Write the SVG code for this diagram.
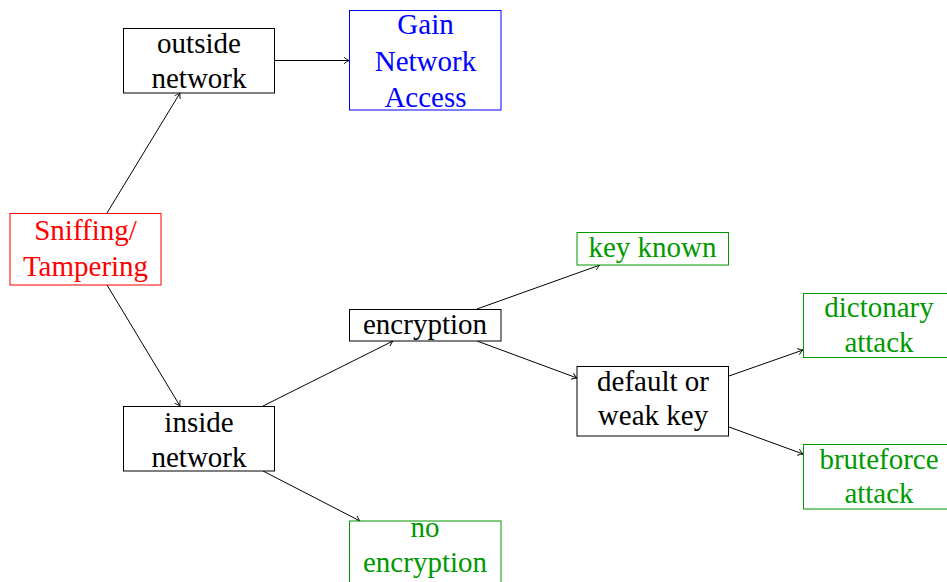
<svg xmlns="http://www.w3.org/2000/svg" width="947" height="582" viewBox="0 0 947 582">
  <defs>
    <marker id="arrow" viewBox="-6 -4 7 8" refX="0" refY="0" markerWidth="7" markerHeight="8" markerUnits="userSpaceOnUse" orient="auto">
      <path d="M -5,-3.2 Q -2,-0.8 0,0 Q -2,0.8 -5,3.2" fill="none" stroke="#000000" stroke-width="0.9"/>
    </marker>
  </defs>

  <g id="connectors" stroke="#000000" stroke-width="1" fill="none" marker-end="url(#arrow)">
    <line x1="107" y1="213" x2="180" y2="93"/>
    <line x1="107" y1="285" x2="180" y2="406"/>
    <line x1="275" y1="60.5" x2="349" y2="60.5"/>
    <line x1="263" y1="406" x2="393" y2="341"/>
    <line x1="263" y1="471" x2="360" y2="521"/>
    <line x1="477" y1="309" x2="600" y2="265"/>
    <line x1="477" y1="341" x2="577" y2="378"/>
    <line x1="729" y1="376" x2="803" y2="350"/>
    <line x1="729" y1="427" x2="803" y2="454"/>
  </g>

  <g id="sniffing" text-anchor="middle" fill="#ff0000">
    <rect x="10" y="213.5" width="151" height="71.5" fill="#ffffff" stroke="#ff0000"/>
    <text x="85.5" y="240" style="font-family:'Liberation Serif','Times New Roman',serif !important;font-size:29px">Sniffing/</text>
    <text x="85.5" y="276" style="font-family:'Liberation Serif','Times New Roman',serif !important;font-size:29px">Tampering</text>
  </g>

  <g id="outside" text-anchor="middle" fill="#000000">
    <rect x="123.5" y="28.5" width="151" height="64.5" fill="#ffffff" stroke="#000000"/>
    <text x="199" y="53" style="font-family:'Liberation Serif','Times New Roman',serif !important;font-size:29px">outside</text>
    <text x="199" y="88" style="font-family:'Liberation Serif','Times New Roman',serif !important;font-size:29px">network</text>
  </g>

  <g id="gain" text-anchor="middle" fill="#0000ff">
    <rect x="349.5" y="10.5" width="151.5" height="99.5" fill="#ffffff" stroke="#0000ff"/>
    <text x="425.5" y="33.5" style="font-family:'Liberation Serif','Times New Roman',serif !important;font-size:29px">Gain</text>
    <text x="425.5" y="71" style="font-family:'Liberation Serif','Times New Roman',serif !important;font-size:29px">Network</text>
    <text x="425.5" y="107" style="font-family:'Liberation Serif','Times New Roman',serif !important;font-size:29px">Access</text>
  </g>

  <g id="inside" text-anchor="middle" fill="#000000">
    <rect x="123.5" y="406.5" width="151" height="64.5" fill="#ffffff" stroke="#000000"/>
    <text x="199" y="432" style="font-family:'Liberation Serif','Times New Roman',serif !important;font-size:29px">inside</text>
    <text x="199" y="467" style="font-family:'Liberation Serif','Times New Roman',serif !important;font-size:29px">network</text>
  </g>

  <g id="encryption" text-anchor="middle" fill="#000000">
    <rect x="349.5" y="309.5" width="151.5" height="31.5" fill="#ffffff" stroke="#000000"/>
    <text x="425" y="334" style="font-family:'Liberation Serif','Times New Roman',serif !important;font-size:29px">encryption</text>
  </g>

  <g id="noencryption" text-anchor="middle" fill="#009900">
    <rect x="349.5" y="521" width="151.5" height="70" fill="#ffffff" stroke="#009900"/>
    <text x="425" y="537" style="font-family:'Liberation Serif','Times New Roman',serif !important;font-size:29px">no</text>
    <text x="425" y="572" style="font-family:'Liberation Serif','Times New Roman',serif !important;font-size:29px">encryption</text>
  </g>

  <g id="keyknown" text-anchor="middle" fill="#009900">
    <rect x="577" y="232.5" width="151.5" height="32.5" fill="#ffffff" stroke="#009900"/>
    <text x="652.5" y="257" style="font-family:'Liberation Serif','Times New Roman',serif !important;font-size:29px">key known</text>
  </g>

  <g id="weakkey" text-anchor="middle" fill="#000000">
    <rect x="577" y="366.5" width="151.5" height="69.5" fill="#ffffff" stroke="#000000"/>
    <text x="653" y="391" style="font-family:'Liberation Serif','Times New Roman',serif !important;font-size:29px">default or</text>
    <text x="653" y="425" style="font-family:'Liberation Serif','Times New Roman',serif !important;font-size:29px">weak key</text>
  </g>

  <g id="dictionary" text-anchor="middle" fill="#009900">
    <rect x="803.5" y="293.5" width="152" height="64" fill="#ffffff" stroke="#009900"/>
    <text x="879" y="317" style="font-family:'Liberation Serif','Times New Roman',serif !important;font-size:29px">dictonary</text>
    <text x="879" y="352" style="font-family:'Liberation Serif','Times New Roman',serif !important;font-size:29px">attack</text>
  </g>

  <g id="bruteforce" text-anchor="middle" fill="#009900">
    <rect x="803.5" y="444.5" width="152" height="64.5" fill="#ffffff" stroke="#009900"/>
    <text x="879" y="468.5" style="font-family:'Liberation Serif','Times New Roman',serif !important;font-size:29px">bruteforce</text>
    <text x="879" y="503" style="font-family:'Liberation Serif','Times New Roman',serif !important;font-size:29px">attack</text>
  </g>
</svg>
